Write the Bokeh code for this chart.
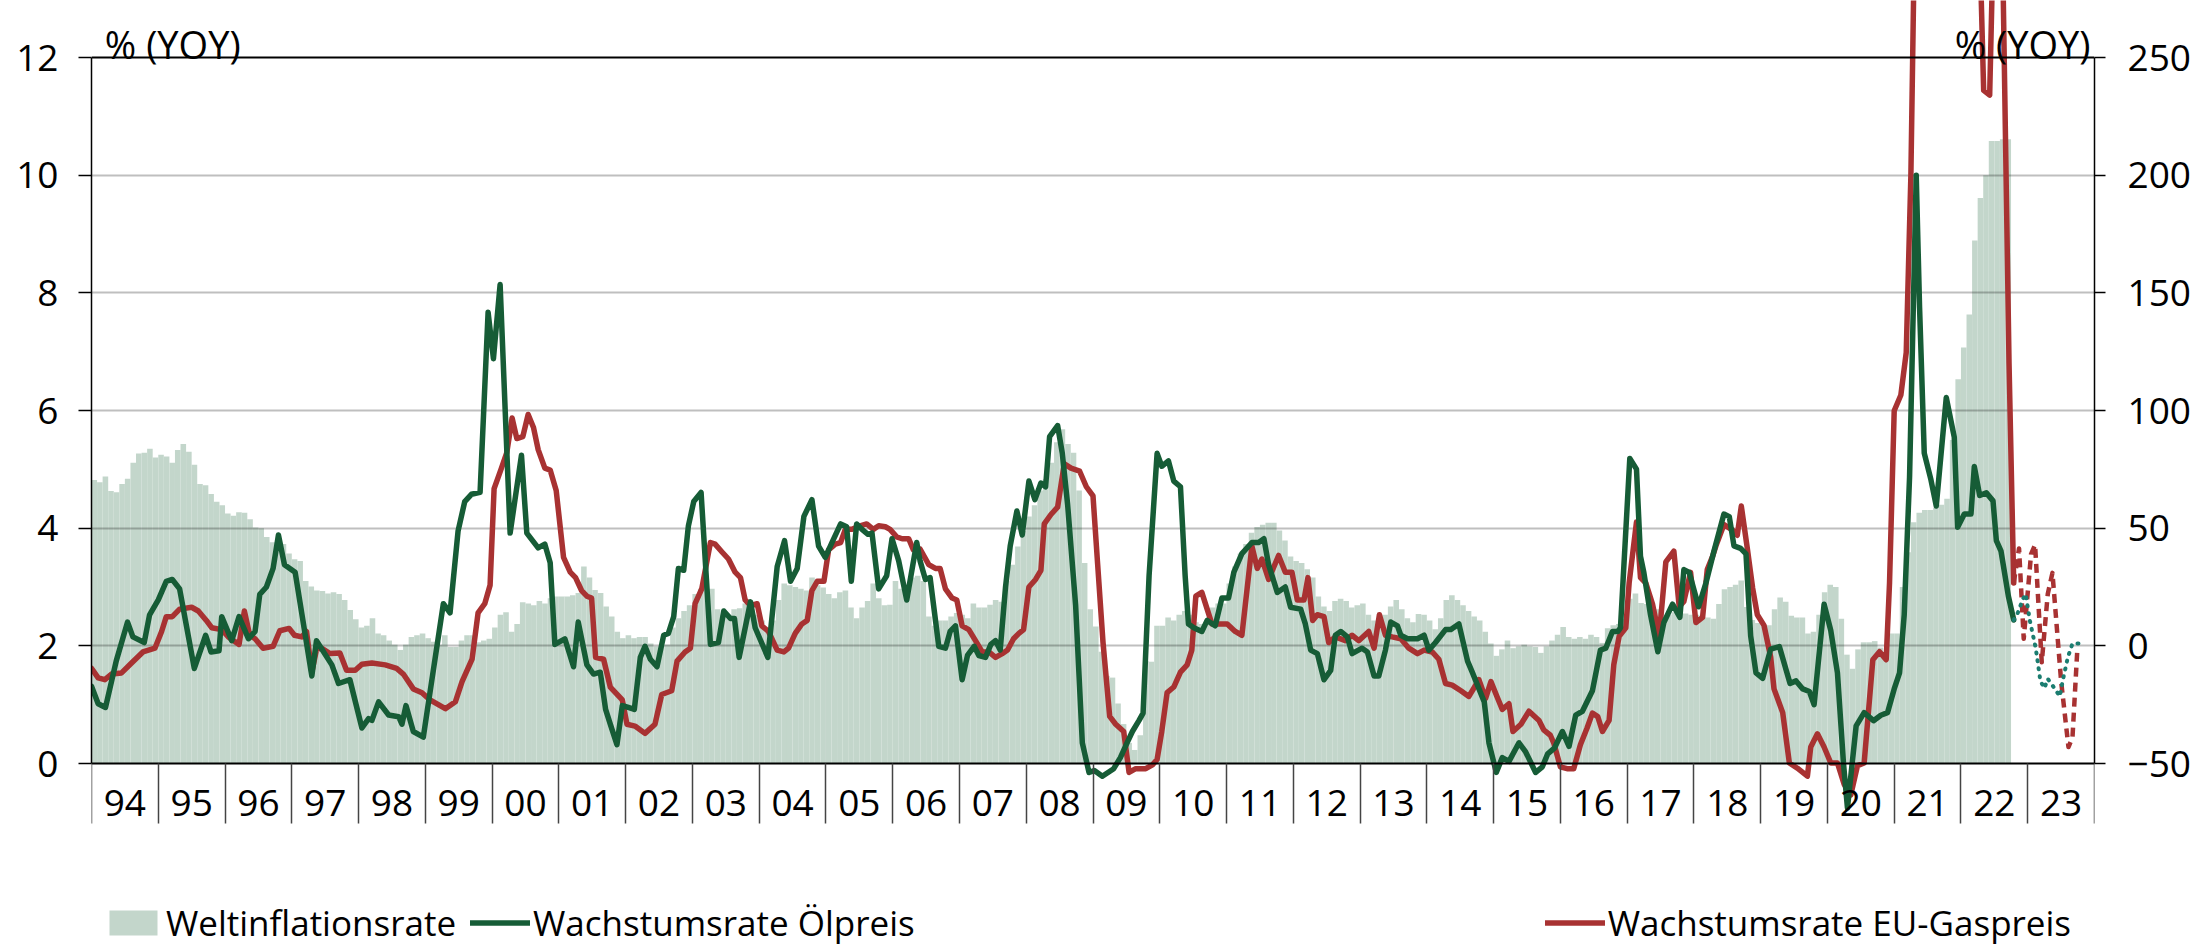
from bokeh.plotting import figure
from bokeh.models import (Range1d, LinearAxis, FixedTicker, Span, Label, LabelSet,
                          ColumnDataSource, Legend, LegendItem)
from bokeh.core.properties import value
from bokeh.embed import file_html
from bokeh.resources import INLINE

FONT = "Open Sans"

year_labels = ["94", "95", "96", "97", "98", "99", "00", "01", "02", "03",
               "04", "05", "06", "07", "08", "09", "10", "11", "12", "13",
               "14", "15", "16", "17", "18", "19", "20", "21", "22", "23"]
first_year = 1994

# Weltinflationsrate, monthly from Jan 1994 (left axis, %)
inflation = [
    4.82, 4.78, 4.88, 4.63, 4.61, 4.75, 4.84, 5.11, 5.27, 5.28, 5.35, 5.20,
    5.25, 5.22, 5.11, 5.33, 5.43, 5.30, 5.08, 4.75, 4.73, 4.58, 4.45, 4.39,
    4.25, 4.21, 4.27, 4.26, 4.15, 4.01, 4.00, 3.85, 3.76, 3.69, 3.73, 3.57,
    3.47, 3.44, 3.10, 3.01, 2.94, 2.93, 2.89, 2.91, 2.88, 2.78, 2.61, 2.45,
    2.31, 2.34, 2.47, 2.21, 2.18, 2.09, 2.02, 1.93, 2.02, 2.15, 2.18, 2.21,
    2.13, 2.07, 2.02, 2.18, 1.98, 1.98, 2.09, 2.18, 2.18, 2.06, 2.09, 2.12,
    2.31, 2.53, 2.57, 2.24, 2.37, 2.74, 2.72, 2.69, 2.76, 2.72, 2.81, 2.84,
    2.84, 2.84, 2.86, 2.90, 3.35, 3.16, 2.95, 2.90, 2.67, 2.50, 2.24, 2.13,
    2.18, 2.13, 2.15, 2.15, 2.04, 1.99, 2.00, 2.02, 2.31, 2.47, 2.59, 2.69,
    2.88, 2.97, 3.13, 2.97, 2.62, 2.53, 2.53, 2.62, 2.64, 2.72, 2.65, 2.53,
    2.43, 2.31, 2.43, 2.78, 3.06, 3.03, 3.00, 2.97, 2.94, 3.16, 3.03, 2.99,
    2.88, 2.81, 2.91, 2.94, 2.65, 2.47, 2.65, 2.76, 3.06, 2.81, 2.69, 2.70,
    3.10, 2.97, 3.03, 3.16, 3.19, 3.10, 2.50, 2.34, 2.43, 2.43, 2.50, 2.56,
    2.53, 2.47, 2.72, 2.65, 2.65, 2.70, 2.78, 2.75, 3.10, 3.38, 3.69, 3.95,
    4.20, 4.39, 4.64, 4.83, 5.11, 5.46, 5.68, 5.43, 5.28, 4.64, 3.41, 2.62,
    2.33, 1.90, 1.49, 1.46, 1.02, 0.67, 0.35, 0.23, 0.48, 1.74, 1.73, 2.34,
    2.34, 2.48, 2.43, 2.53, 2.59, 2.53, 2.40, 2.37, 2.43, 2.65, 2.72, 2.72,
    3.06, 3.35, 3.57, 3.73, 3.92, 4.02, 4.06, 4.09, 4.09, 3.96, 3.79, 3.52,
    3.44, 3.41, 3.30, 3.16, 2.84, 2.67, 2.59, 2.76, 2.80, 2.76, 2.65, 2.69,
    2.72, 2.53, 2.43, 2.37, 2.53, 2.67, 2.78, 2.62, 2.47, 2.40, 2.54, 2.53,
    2.43, 2.28, 2.47, 2.78, 2.86, 2.78, 2.69, 2.59, 2.50, 2.43, 2.24, 2.04,
    1.83, 1.94, 2.09, 1.96, 1.99, 2.02, 1.99, 1.98, 1.88, 1.99, 2.09, 2.19,
    2.32, 2.15, 2.12, 2.15, 2.12, 2.19, 2.15, 2.05, 2.30, 2.35, 2.37, 2.45,
    2.80, 2.89, 2.73, 2.71, 2.71, 2.62, 2.48, 2.53, 2.57, 2.62, 2.55, 2.53,
    2.53, 2.51, 2.48, 2.46, 2.71, 2.96, 3.00, 3.04, 3.11, 2.66, 2.44, 2.39,
    2.35, 2.35, 2.62, 2.82, 2.75, 2.51, 2.48, 2.48, 2.21, 2.24, 2.53, 2.91,
    3.04, 3.00, 2.46, 1.85, 1.61, 1.94, 2.06, 2.06, 2.08, 1.97, 1.90, 2.21,
    2.21, 3.00, 3.59, 4.10, 4.26, 4.31, 4.31, 4.35, 4.40, 4.50, 5.50, 6.53,
    7.07, 7.63, 8.89, 9.61, 10.00, 10.58, 10.58, 10.61, 10.61,
]

# Wachstumsrate Oelpreis (right axis, % YoY): (decimal year, value)
oil_points = [
    (1994.00, -17.2), (1994.10, -24.6), (1994.21, -26.2), (1994.37, -6.5), (1994.54, 10.1),
    (1994.62, 3.8), (1994.79, 1.4), (1994.87, 13.2), (1995.00, 19.5), (1995.12, 27.4),
    (1995.21, 28.2), (1995.32, 24.2), (1995.54, -9.6), (1995.71, 4.5), (1995.79, -2.6),
    (1995.91, -2.1), (1995.95, 12.4), (1996.10, 2.2), (1996.21, 12.4), (1996.35, 3.0),
    (1996.45, 6.1), (1996.52, 21.9), (1996.62, 25.0), (1996.72, 32.9), (1996.80, 47.1),
    (1996.89, 34.5), (1997.05, 31.3), (1997.30, -12.8), (1997.37, 2.2), (1997.60, -8.1),
    (1997.70, -16.0), (1997.87, -14.4), (1998.05, -34.9), (1998.15, -30.9), (1998.20, -31.7),
    (1998.30, -23.8), (1998.45, -29.4), (1998.60, -30.1), (1998.65, -33.3), (1998.71, -25.4),
    (1998.82, -36.4), (1998.97, -38.8), (1999.04, -25.4), (1999.27, 17.9), (1999.37, 14.0),
    (1999.49, 48.7), (1999.59, 61.3), (1999.69, 64.4), (1999.82, 65.2), (1999.94, 141.7),
    (2000.02, 122.0), (2000.12, 153.5), (2000.27, 47.9), (2000.44, 81.0), (2000.52, 47.9),
    (2000.69, 41.6), (2000.79, 43.2), (2000.87, 35.3), (2000.94, 0.6), (2001.09, 3.0),
    (2001.22, -8.9), (2001.29, 10.1), (2001.42, -8.1), (2001.52, -12.0), (2001.62, -11.2),
    (2001.70, -27.0), (2001.77, -33.3), (2001.87, -42.0), (2001.95, -25.4), (2002.04, -26.2),
    (2002.13, -27.0), (2002.22, -4.9), (2002.29, -0.2), (2002.37, -5.7), (2002.47, -8.9),
    (2002.57, 4.5), (2002.64, 5.3), (2002.72, 12.4), (2002.79, 32.9), (2002.87, 32.1),
    (2002.94, 51.0), (2003.02, 61.3), (2003.13, 65.2), (2003.27, 0.6), (2003.39, 1.4),
    (2003.47, 14.8), (2003.57, 11.6), (2003.63, 11.6), (2003.70, -4.9), (2003.87, 18.7),
    (2003.94, 7.7), (2004.13, -4.9), (2004.27, 33.7), (2004.38, 44.7), (2004.47, 27.4),
    (2004.57, 32.9), (2004.67, 55.0), (2004.79, 62.1), (2004.89, 42.4), (2004.99, 37.6),
    (2005.09, 43.9), (2005.22, 51.8), (2005.31, 50.6), (2005.38, 27.4), (2005.46, 51.8),
    (2005.54, 49.5), (2005.63, 47.4), (2005.69, 47.9), (2005.79, 24.2), (2005.91, 29.8),
    (2005.99, 45.5), (2006.09, 36.1), (2006.21, 19.5), (2006.36, 43.9), (2006.41, 36.1),
    (2006.49, 28.2), (2006.56, 29.0), (2006.69, -0.2), (2006.79, -1.0), (2006.86, 6.1),
    (2006.94, 8.5), (2007.04, -14.4), (2007.12, -4.1), (2007.22, -0.2), (2007.29, -4.1),
    (2007.39, -4.9), (2007.47, 0.6), (2007.54, 2.2), (2007.61, -1.8), (2007.69, 25.0),
    (2007.76, 42.4), (2007.86, 57.3), (2007.94, 47.1), (2008.04, 70.0), (2008.13, 62.1),
    (2008.22, 69.2), (2008.29, 67.6), (2008.35, 88.9), (2008.47, 93.6), (2008.54, 81.8),
    (2008.62, 60.0), (2008.74, 17.1), (2008.84, -41.2), (2008.94, -53.8), (2009.02, -53.0),
    (2009.14, -55.4), (2009.31, -52.2), (2009.41, -47.5), (2009.51, -41.2), (2009.59, -36.4),
    (2009.69, -31.7), (2009.75, -28.6), (2009.84, 29.8), (2009.96, 81.8), (2010.03, 76.3),
    (2010.13, 78.6), (2010.21, 70.0), (2010.31, 67.6), (2010.38, 29.8), (2010.43, 9.3),
    (2010.51, 7.7), (2010.63, 6.1), (2010.71, 10.8), (2010.83, 8.5), (2010.93, 20.3),
    (2011.03, 20.3), (2011.11, 31.3), (2011.23, 39.2), (2011.38, 43.9), (2011.48, 43.9),
    (2011.56, 45.5), (2011.63, 34.5), (2011.76, 22.7), (2011.88, 25.0), (2011.96, 16.4),
    (2012.11, 15.6), (2012.18, 9.3), (2012.26, -1.8), (2012.36, -3.3), (2012.46, -14.4),
    (2012.56, -10.4), (2012.63, 4.5), (2012.71, 6.1), (2012.81, 3.8), (2012.88, -3.3),
    (2013.03, -1.0), (2013.11, -2.6), (2013.21, -12.8), (2013.28, -12.8), (2013.38, -1.8),
    (2013.46, 10.1), (2013.56, 8.5), (2013.61, 4.5), (2013.71, 3.0), (2013.86, 3.0),
    (2013.96, 4.5), (2014.03, -1.8), (2014.13, 1.4), (2014.28, 6.9), (2014.36, 6.9),
    (2014.48, 9.3), (2014.61, -6.5), (2014.68, -11.2), (2014.86, -23.8), (2014.93, -41.2),
    (2015.04, -53.8), (2015.13, -47.5), (2015.23, -49.1), (2015.38, -41.2), (2015.48, -45.1),
    (2015.63, -53.8), (2015.73, -51.4), (2015.81, -45.9), (2015.91, -43.5), (2016.03, -36.4),
    (2016.13, -42.7), (2016.23, -29.4), (2016.33, -27.8), (2016.48, -19.1), (2016.60, -1.8),
    (2016.68, -1.0), (2016.78, 6.1), (2016.86, 6.1), (2016.90, 7.6), (2017.04, 79.6),
    (2017.14, 75.1), (2017.20, 38.0), (2017.25, 31.2), (2017.35, 13.2), (2017.46, -2.5),
    (2017.55, 9.9), (2017.68, 17.7), (2017.79, 12.1), (2017.85, 32.4), (2017.93, 31.2),
    (2018.07, 16.6), (2018.18, 26.7), (2018.30, 40.2), (2018.45, 56.0), (2018.53, 54.9),
    (2018.60, 42.5), (2018.70, 41.4), (2018.78, 39.1), (2018.85, 4.2), (2018.93, -11.5),
    (2019.03, -13.8), (2019.15, -1.4), (2019.28, -0.3), (2019.44, -16.0), (2019.53, -14.9),
    (2019.63, -18.3), (2019.73, -19.4), (2019.80, -25.0), (2019.95, 17.7), (2020.05, 6.5),
    (2020.15, -11.5), (2020.24, -49.8), (2020.30, -68.9), (2020.43, -34.0), (2020.55, -28.4),
    (2020.69, -31.8), (2020.80, -29.5), (2020.90, -28.4), (2021.00, -18.3), (2021.08, -11.5),
    (2021.15, 13.2), (2021.23, 71.7), (2021.33, 200.0), (2021.38, 143.7), (2021.45, 81.9),
    (2021.55, 70.6), (2021.63, 59.4), (2021.78, 105.5), (2021.90, 88.6), (2021.95, 50.4),
    (2022.05, 56.0), (2022.15, 56.0), (2022.20, 76.2), (2022.28, 63.9), (2022.38, 65.0),
    (2022.48, 61.6), (2022.53, 44.7), (2022.60, 40.2), (2022.71, 21.1), (2022.79, 11.0),
]

# Oelpreis forecast (dotted)
oil_forecast = [
    (2022.79, 11.0), (2022.84, 13.2), (2022.93, 20.0), (2022.97, 22.0), (2023.03, 11.0),
    (2023.12, -1.0), (2023.19, -15.0), (2023.25, -18.0), (2023.30, -14.0), (2023.40, -18.0),
    (2023.48, -21.5), (2023.53, -14.0), (2023.60, -5.0), (2023.67, 1.0), (2023.76, 1.0),
]

# Wachstumsrate EU-Gaspreis (right axis, % YoY)
gas_points = [
    (1994.00, -9.6), (1994.10, -13.6), (1994.20, -14.4), (1994.30, -12.0), (1994.45, -11.5),
    (1994.60, -7.3), (1994.77, -2.6), (1994.95, -1.0), (1995.05, 6.1), (1995.12, 12.4),
    (1995.21, 12.4), (1995.32, 15.6), (1995.50, 16.4), (1995.60, 14.8), (1995.72, 10.8),
    (1995.80, 7.7), (1995.95, 6.9), (1996.05, 3.8), (1996.21, 0.6), (1996.29, 14.8),
    (1996.37, 4.5), (1996.45, 3.0), (1996.57, -1.0), (1996.72, -0.2), (1996.82, 6.4),
    (1996.96, 7.4), (1997.04, 4.5), (1997.15, 3.8), (1997.22, 6.1), (1997.30, -11.2),
    (1997.37, -1.5), (1997.45, -1.0), (1997.57, -3.3), (1997.72, -3.0), (1997.82, -10.4),
    (1997.95, -10.4), (1998.05, -7.8), (1998.20, -7.3), (1998.40, -8.1), (1998.57, -9.6),
    (1998.67, -12.0), (1998.82, -18.3), (1998.95, -19.9), (1999.07, -23.0), (1999.30, -26.7),
    (1999.45, -23.8), (1999.55, -15.2), (1999.70, -5.7), (1999.79, 14.0), (1999.89, 17.9),
    (1999.97, 25.8), (2000.03, 66.8), (2000.14, 75.5), (2000.22, 82.1), (2000.30, 96.8),
    (2000.37, 88.1), (2000.46, 88.9), (2000.54, 98.3), (2000.62, 92.8), (2000.69, 83.4),
    (2000.79, 75.5), (2000.87, 74.7), (2000.96, 66.0), (2001.07, 37.6), (2001.17, 31.3),
    (2001.25, 29.0), (2001.34, 23.5), (2001.42, 21.1), (2001.49, 20.3), (2001.55, -4.9),
    (2001.67, -5.7), (2001.77, -17.5), (2001.95, -23.0), (2002.02, -33.3), (2002.14, -34.1),
    (2002.29, -37.2), (2002.44, -33.3), (2002.54, -20.7), (2002.69, -19.1), (2002.77, -6.5),
    (2002.89, -2.6), (2002.97, -1.0), (2003.04, 17.9), (2003.14, 24.2), (2003.27, 43.9),
    (2003.34, 43.2), (2003.44, 40.0), (2003.54, 36.9), (2003.64, 31.3), (2003.72, 29.0),
    (2003.79, 19.5), (2003.87, 17.1), (2003.97, 17.9), (2004.04, 8.5), (2004.14, 6.1),
    (2004.27, -1.8), (2004.37, -2.6), (2004.44, -1.0), (2004.54, 5.3), (2004.64, 9.3),
    (2004.72, 10.8), (2004.79, 23.5), (2004.87, 27.4), (2004.97, 27.4), (2005.04, 40.8),
    (2005.14, 43.2), (2005.22, 43.9), (2005.29, 49.5), (2005.39, 49.5), (2005.51, 51.0),
    (2005.61, 51.8), (2005.71, 49.5), (2005.79, 51.0), (2005.89, 50.6), (2005.96, 49.5),
    (2006.06, 46.3), (2006.14, 45.5), (2006.24, 45.5), (2006.31, 40.8), (2006.41, 41.1),
    (2006.54, 34.5), (2006.64, 32.9), (2006.71, 32.9), (2006.79, 24.2), (2006.89, 20.3),
    (2006.96, 19.5), (2007.04, 8.5), (2007.14, 6.9), (2007.24, 2.2), (2007.34, -2.6),
    (2007.44, -2.6), (2007.54, -4.9), (2007.64, -3.3), (2007.72, -1.8), (2007.81, 3.0),
    (2007.89, 5.3), (2007.96, 6.9), (2008.04, 25.0), (2008.14, 28.2), (2008.22, 32.1),
    (2008.27, 51.8), (2008.37, 55.8), (2008.47, 58.9), (2008.57, 77.4), (2008.67, 75.5),
    (2008.80, 74.2), (2008.90, 67.6), (2009.00, 63.7), (2009.07, 34.5), (2009.15, 1.4),
    (2009.25, -30.0), (2009.34, -33.3), (2009.46, -36.4), (2009.54, -53.8), (2009.64, -52.2),
    (2009.79, -52.2), (2009.89, -50.6), (2009.96, -48.3), (2010.03, -36.4), (2010.11, -19.9),
    (2010.21, -17.5), (2010.31, -11.2), (2010.41, -8.1), (2010.48, -1.8), (2010.54, 21.1),
    (2010.63, 22.7), (2010.78, 9.3), (2010.88, 9.3), (2011.01, 9.3), (2011.13, 6.1),
    (2011.23, 4.5), (2011.38, 42.4), (2011.46, 32.9), (2011.53, 36.9), (2011.63, 28.2),
    (2011.78, 38.4), (2011.88, 31.3), (2011.98, 31.3), (2012.06, 19.5), (2012.16, 19.5),
    (2012.22, 29.0), (2012.29, 10.8), (2012.36, 13.2), (2012.46, 12.4), (2012.53, 1.4),
    (2012.63, 3.8), (2012.78, 2.2), (2012.88, 4.5), (2012.98, 2.2), (2013.13, 6.1),
    (2013.21, -1.0), (2013.29, 13.2), (2013.38, 4.5), (2013.48, 3.8), (2013.61, 3.0),
    (2013.73, -1.0), (2013.86, -3.3), (2013.96, -1.8), (2014.08, -2.6), (2014.18, -5.7),
    (2014.28, -16.0), (2014.38, -16.7), (2014.51, -19.1), (2014.63, -21.5), (2014.78, -14.4),
    (2014.88, -22.3), (2014.96, -15.2), (2015.05, -21.5), (2015.13, -27.0), (2015.23, -24.6),
    (2015.29, -36.4), (2015.41, -33.3), (2015.53, -27.8), (2015.68, -31.7), (2015.75, -35.7),
    (2015.85, -38.0), (2015.90, -41.2), (2016.00, -51.4), (2016.10, -52.2), (2016.20, -52.2),
    (2016.30, -42.0), (2016.40, -34.9), (2016.48, -28.6), (2016.56, -30.1), (2016.63, -36.4),
    (2016.73, -31.7), (2016.80, -8.0), (2016.88, 4.0), (2016.98, 7.7), (2017.03, 26.7),
    (2017.14, 52.6), (2017.20, 29.0), (2017.28, 26.7), (2017.38, 17.7), (2017.48, 4.2),
    (2017.58, 35.7), (2017.70, 40.2), (2017.78, 16.6), (2017.85, 18.9), (2017.95, 31.2),
    (2018.03, 9.9), (2018.13, 12.1), (2018.20, 32.4), (2018.28, 38.0), (2018.33, 42.5),
    (2018.45, 51.5), (2018.58, 49.2), (2018.65, 47.0), (2018.71, 59.4), (2018.80, 41.4),
    (2018.88, 24.5), (2018.95, 13.2), (2019.05, 8.7), (2019.15, -4.8), (2019.20, -18.3),
    (2019.33, -28.4), (2019.43, -49.8), (2019.55, -52.0), (2019.70, -55.4), (2019.75, -43.0),
    (2019.85, -37.4), (2019.95, -43.0), (2020.05, -49.8), (2020.15, -49.8), (2020.25, -58.8),
    (2020.35, -63.3), (2020.45, -50.9), (2020.55, -49.8), (2020.68, -5.9), (2020.78, -2.5),
    (2020.88, -5.9), (2020.93, 26.7), (2021.00, 99.9), (2021.10, 106.6), (2021.18, 124.6),
    (2021.25, 200.0), (2021.33, 350.0), (2021.60, 450.0), (2021.90, 550.0), (2022.10, 400.0),
    (2022.28, 300.0), (2022.34, 236.0), (2022.43, 234.0), (2022.50, 320.0), (2022.62, 300.0),
    (2022.72, 120.0), (2022.79, 26.7),
]

# EU-Gaspreis forecast (dashed)
gas_forecast = [
    (2022.79, 26.7), (2022.87, 41.4), (2022.94, 3.0), (2023.05, 39.0), (2023.11, 43.0),
    (2023.21, -7.0), (2023.30, 22.0), (2023.37, 31.0), (2023.50, -15.0), (2023.61, -43.0),
    (2023.67, -39.0), (2023.74, -3.0),
]

BAR_COLOR = "#c3d6cb"
OIL_COLOR = "#165c36"
OIL_FC_COLOR = "#1b7d70"
GAS_COLOR = "#a83232"

# left axis: 0..12 spans 706 px (12 at y=57 px, 0 at y=763 px of the page);
# the frame fills the whole height so lines, unit labels, year labels and
# the legend all live inside it
PX_PER_UNIT = 706.0 / 12.0
FRAME_TOP = 0
FRAME_H = 948
y_end = 12 + (57.0 - FRAME_TOP) / PX_PER_UNIT
y_start = y_end - FRAME_H / PX_PER_UNIT


def to_right(v):
    return 25.0 * v - 50.0


def px_below_zero(px):
    return -px / PX_PER_UNIT


p = figure(frame_width=2003, frame_height=FRAME_H,
           x_range=Range1d(first_year, first_year + len(year_labels)),
           y_range=Range1d(y_start, y_end),
           x_axis_location="above",
           output_backend="svg", toolbar_location=None,
           min_border_left=91, min_border_right=103, min_border_top=0,
           min_border_bottom=0)
p.extra_y_ranges = {"right": Range1d(to_right(y_start), to_right(y_end))}
p.outline_line_color = None
p.background_fill_color = "white"
p.border_fill_color = "white"

# bars
bx = [first_year + (i + 0.5) / 12.0 for i in range(len(inflation))]
bars = p.vbar(x=bx, top=inflation, bottom=0, width=1.0 / 12.0,
              fill_color=BAR_COLOR, line_color=None, level="image")

oil_x = [t for t, v in oil_points]
oil_y = [v for t, v in oil_points]
gas_x = [t for t, v in gas_points]
gas_y = [v for t, v in gas_points]

gas_line = p.line(gas_x, gas_y, y_range_name="right", line_color=GAS_COLOR,
                  line_width=5.5, line_join="round", line_cap="round")
oil_line = p.line(oil_x, oil_y, y_range_name="right", line_color=OIL_COLOR,
                  line_width=5.5, line_join="round", line_cap="round")
p.line([t for t, v in gas_forecast], [v for t, v in gas_forecast], y_range_name="right",
       line_color=GAS_COLOR, line_width=4.5, line_dash="9 6", line_join="round")
p.line([t for t, v in oil_forecast], [v for t, v in oil_forecast], y_range_name="right",
       line_color=OIL_FC_COLOR, line_width=4, line_dash="1 7", line_cap="round")
spacer = p.line([], [], line_alpha=0)

# grid
p.xgrid.visible = False
p.ygrid.ticker = FixedTicker(ticks=[2, 4, 6, 8, 10])
p.ygrid.grid_line_color = "black"
p.ygrid.grid_line_alpha = 0.25
p.ygrid.grid_line_width = 2

p.add_layout(Span(location=12, dimension="width", line_color="black", line_width=2))

# left axis
ya = p.yaxis[0]
ya.ticker = FixedTicker(ticks=[0, 2, 4, 6, 8, 10, 12])
ya.bounds = (0, 12)
ya.major_tick_out = 13
ya.major_tick_in = 0
ya.minor_tick_out = 0
ya.minor_tick_in = 0
ya.axis_line_width = 1.5
ya.major_tick_line_width = 1.5
ya.major_label_standoff = 20
ya.major_label_text_font = FONT
ya.major_label_text_font_size = "37px"
ya.major_label_text_color = "black"

# right axis
ra = LinearAxis(y_range_name="right", ticker=FixedTicker(ticks=[-50, 0, 50, 100, 150, 200, 250]))
ra.bounds = (-50, 250)
ra.major_tick_out = 11
ra.major_tick_in = 0
ra.minor_tick_out = 0
ra.minor_tick_in = 0
ra.axis_line_width = 1.5
ra.major_tick_line_width = 1.5
ra.major_label_standoff = 22
ra.major_label_text_font = FONT
ra.major_label_text_font_size = "37px"
ra.major_label_text_color = "black"
p.add_layout(ra, "right")

# x axis drawn at y=0, its ticks hanging down as year separators
mids = [first_year + i + 0.5 for i in range(len(year_labels))]
bounds_ticks = [first_year + i for i in range(len(year_labels) + 1)]
xa = p.xaxis[0]
xa.ticker = FixedTicker(ticks=bounds_ticks)
xa.major_label_overrides = {b: "" for b in bounds_ticks}
xa.major_label_text_font_size = "1px"
xa.major_label_text_alpha = 0
xa.major_label_standoff = 0
xa.fixed_location = 0
xa.axis_line_width = 2
xa.axis_line_color = "black"
xa.major_tick_out = 0
xa.major_tick_in = 60
xa.minor_tick_out = 0
xa.minor_tick_in = 0
xa.major_tick_line_color = "#444444"
xa.major_tick_line_width = 1.5

# year labels centred in each year
p.add_layout(LabelSet(source=ColumnDataSource(dict(x=mids, text=year_labels)),
                      x="x", y=px_below_zero(52), text="text",
                      text_align=value("center"), text_baseline=value("alphabetic"),
                      text_font=value(FONT), text_font_size=value("37px"),
                      text_color=value("black")))

# unit labels
for x, align in ((first_year + 0.2, "left"), (first_year + 29.94, "right")):
    p.add_layout(Label(x=x, y=12 + 14.0 / PX_PER_UNIT, text="% (YOY)", text_align=align,
                       text_baseline="alphabetic", text_font=FONT, text_font_size="38px",
                       text_color="black"))

# legend: one row, the gas entry pushed to the right by blank entries
items = [LegendItem(label="Weltinflationsrate", renderers=[bars]),
         LegendItem(label="Wachstumsrate Ölpreis", renderers=[oil_line])]
items += [LegendItem(label="", renderers=[spacer]) for _ in range(8)]
items += [LegendItem(label="Wachstumsrate EU-Gaspreis", renderers=[gas_line])]
legend = Legend(items=items, location=(12, 2), orientation="horizontal",
                glyph_width=60, glyph_height=31, label_standoff=3, spacing=14,
                label_width=0, padding=0, margin=0, border_line_color=None,
                background_fill_alpha=0, label_text_font=FONT,
                label_text_font_size="35px", label_text_color="black")
p.add_layout(legend, "center")

open("out.html", "w").write(file_html(p, INLINE))
